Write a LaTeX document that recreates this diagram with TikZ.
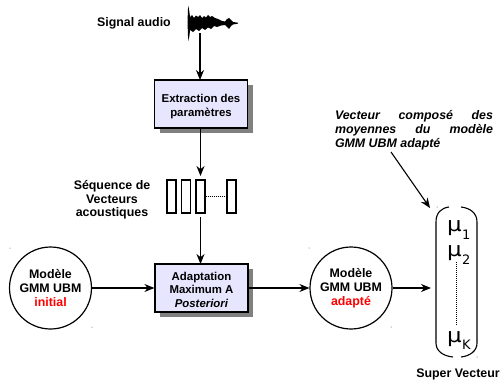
\documentclass[tikz,border=0pt]{standalone}
\usepackage{fontspec}
\usepackage{xcolor}
\usepackage{tikz}
\usetikzlibrary{arrows.meta,shadows}
\setmainfont{Liberation Sans}
\newfontfamily\mufont{DejaVu Sans}
\definecolor{boxfill}{HTML}{E6E6FF}
\definecolor{shade}{HTML}{808080}
\newcommand{\wideMu}{\scalebox{1.15}[1]{μ}}
\tikzset{
  lab/.style={font=\fontsize{12.4}{13.6}\selectfont\bfseries, align=center, inner sep=0pt},
  procBox/.style={draw=black, fill=boxfill, line width=1.2pt, minimum width=93pt, minimum height=48pt,
    inner sep=0pt, align=center, font=\fontsize{11.4}{13.6}\selectfont\bfseries,
    drop shadow={shadow xshift=5pt, shadow yshift=-5pt, fill=shade, opacity=1}},
  gmm/.style={circle, draw=black, line width=1.2pt, minimum size=82pt, inner sep=0pt, align=center,
    font=\fontsize{12.4}{14}\selectfont\bfseries},
  vecCell/.style={draw=black, line width=1.1pt, minimum width=9pt, minimum height=33pt, inner sep=0pt},
  flow/.style={-{Stealth[length=10pt,width=8pt]}, draw=black, line width=1.1pt},
  muLab/.style={font=\fontsize{20}{20}\mufont, inner sep=0pt, anchor=base west},
  subLab/.style={font=\fontsize{13}{13}\mufont, inner sep=0pt, anchor=base west},
  dots/.style={draw=black, line width=1pt, dash pattern=on 1pt off 1pt}
}
\begin{document}
\begin{tikzpicture}[x=1pt,y=-1pt]
  \useasboundingbox (0,0) rectangle (503,380);
  \fill[white] (0,0) rectangle (503,380);

  % signal
  \node[lab, anchor=east] (signal) at (171,23) {Signal audio};
  \coordinate (wave) at (200,33);
  \fill[black] (187.5,22)--(188,9)--(188.5,6)--(189.5,13)--(190,17)--(192,15)--(194,18)--(196,15.5)--(198,17)
    --(200,15)--(202,18)--(204,16)--(206,17.5)--(208,15)--(210,17)--(212,16)--(215,18)--(218,19)--(222,21)--(225,21.5)
    --(227,19)--(229,18)--(231,20)--(233,22)--(238,22.7)--(238,23.6)--(233,24.5)--(231,26)--(229,29)--(227,27)
    --(225,25)--(221,25.5)--(217,27)--(214,26)--(211,29)--(208,27.5)--(205,30)--(202,28)--(199,31)--(196,29)
    --(193,32)--(190,30)--(189.5,35)--(188.5,41)--(188,36)--cycle;

  % boxes
  \node[procBox] (extract) at (201,104) {\rule{0pt}{13pt}Extraction des\\paramètres};
  \node[procBox] (adapt) at (201.5,288) {\rule{0pt}{12pt}Adaptation\\Maximum A\\\textit{Posteriori}};

  % vectors
  \node[vecCell] (v1) at (171.5,196.5) {};
  \node[vecCell] (v2) at (186,196.5) {};
  \node[vecCell] (v3) at (200.5,196.5) {};
  \node[vecCell] (v4) at (231.5,196.5) {};
  \draw[dots] (v3.east) -- (v4.west);
  \node[lab] (seq) at (112,200) {Séquence de\\Vecteurs\\acoustiques};

  % circles
  \node[gmm] (init) at (50.5,288) {Modèle\\GMM UBM\\\textcolor{red}{initial}};
  \node[gmm] (adapted) at (351,288) {Modèle\\GMM UBM\\\textcolor{red}{adapté}};

  % super vector
  \coordinate (sv) at (431,288);
  \draw[line width=1.1pt] (449,207) .. controls (441,208) and (436,213) .. (436,222) -- (436,343)
    .. controls (436,351) and (443,356) .. (453,357);
  \draw[line width=1.1pt] (461,207) .. controls (470,208) and (477,213) .. (477,222) -- (477,343)
    .. controls (477,351) and (470,356) .. (461,357);
  \node[muLab] (mu1) at (447,231) {\wideMu};
  \node[subLab] (s1) at (462,239) {1};
  \node[muLab] (mu2) at (447,256) {\wideMu};
  \node[subLab] (s2) at (462,264) {2};
  \node[muLab] (muk) at (447,342) {\wideMu};
  \node[subLab] (sk) at (462,349) {K};
  \draw[dots] (456,262) -- (456,325);
  \node[lab] (super) at (458,374) {Super Vecteur};

  % note
  \node[lab, font=\fontsize{12.4}{14}\selectfont\bfseries\itshape, align=justify, text width=158pt] (note) at (414,130)
    {Vecteur composé des moyennes du modèle GMM UBM adapté};
  \coordinate (noteEnd) at (391,152);
  \coordinate (svTop) at (430,208);

  % specks
  \foreach \sx/\sy in {10/248,92/327,309/248,391/327,437/207,477/357}
    \fill[black!70] (\sx,\sy) circle (0.5pt);

  % arrows
  \draw[flow] (wave) -- (200,80);
  \draw[flow] (200.5,128) -- (200.5,176);
  \draw[flow] (200.5,217) -- (200.5,264);
  \draw[flow] (init.east) -- (adapt.west);
  \draw[flow] (adapt.east) -- (adapted.west);
  \draw[flow] (adapted.east) -- (sv);
  \draw[flow] (noteEnd) -- (svTop);
\end{tikzpicture}
\end{document}
